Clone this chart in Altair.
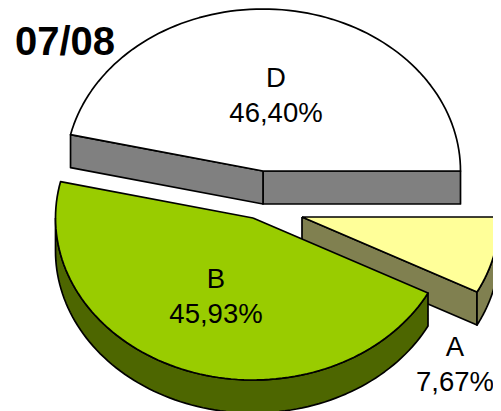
import numpy as np
import pandas as pd
import altair as alt

names = ["A", "B", "D"]
shares = [7.67, 45.93, 46.40]
labels = ["7,67%", "45,93%", "46,40%"]
top_colors = ["#FFFF99", "#99CC00", "#FFFFFF"]
side_colors = ["#808050", "#4D6600", "#808080"]
apex_x = [302, 253, 263]
apex_y = [217, 218, 171]
label_x = [455, 216, 276]
label_y = [348, 280, 79]
title_text = ["07/08"]

RX, RY, DEPTH = 197.5, 162, 33
W, H = 485, 403
xs = alt.Scale(domain=[8, 8 + W], nice=False, zero=False)
ys = alt.Scale(domain=[8 + H, 8], nice=False, zero=False)

start = {"D": 0.0, "B": 46.40 * 3.6, "A": (46.40 + 45.93) * 3.6}
span = dict(zip(names, [s * 3.6 for s in shares]))
apex = {n: (x, y) for n, x, y in zip(names, apex_x, apex_y)}


def arc(n, a0, a1, dy=0):
    t = np.radians(np.linspace(a0, a1, 90))
    cx, cy = apex[n]
    return list(zip(cx + RX * np.cos(t), cy - RY * np.sin(t) + dy))


def poly(pts, fill):
    pts = list(pts) + [pts[0]]
    df = pd.DataFrame(pts, columns=["x", "y"]).assign(i=range(len(pts)))
    return alt.Chart(df).mark_line(
        fill=fill, stroke="black", strokeWidth=1.7, strokeJoin="round", clip=False
    ).encode(
        x=alt.X("x:Q", scale=xs, axis=None),
        y=alt.Y("y:Q", scale=ys, axis=None),
        order="i:Q",
    )


def spoke(n, a):
    cx, cy = apex[n]
    e = arc(n, a, a)[0]
    return [(cx, cy), e, (e[0], e[1] + DEPTH), (cx, cy + DEPTH)]


layers = []
col = dict(zip(names, zip(top_colors, side_colors)))

# slice D
s, e = start["D"], start["D"] + span["D"]
layers += [poly(spoke("D", s), col["D"][1]), poly(spoke("D", e), col["D"][1])]
layers += [poly([apex["D"]] + arc("D", s, e), col["D"][0])]

# slice A
s, e = start["A"], start["A"] + span["A"]
layers += [poly(spoke("A", s), col["A"][1])]
layers += [poly(arc("A", s, e) + arc("A", e, s, DEPTH), col["A"][1])]
layers += [poly([apex["A"]] + arc("A", s, e), col["A"][0])]

# slice B
s, e = start["B"], start["B"] + span["B"]
layers += [poly(arc("B", 180, e) + arc("B", e, 180, DEPTH), col["B"][1])]
layers += [poly([apex["B"]] + arc("B", s, e), col["B"][0])]

# labels
rows = []
for n, lab, x, y in zip(names, labels, label_x, label_y):
    rows.append({"x": x, "y": y, "t": n})
    rows.append({"x": x, "y": y + 34.5, "t": lab})
text = alt.Chart(pd.DataFrame(rows)).mark_text(
    font="Liberation Sans", fontSize=27.5, color="black", align="center", baseline="middle"
).encode(x=alt.X("x:Q", scale=xs, axis=None), y=alt.Y("y:Q", scale=ys, axis=None), text="t:N")

title = alt.Chart(pd.DataFrame({"x": [15], "y": [43], "t": title_text})).mark_text(
    font="Liberation Sans", fontSize=40, fontWeight="bold", color="black", align="left", baseline="middle"
).encode(x=alt.X("x:Q", scale=xs, axis=None), y=alt.Y("y:Q", scale=ys, axis=None), text="t:N")

chart = alt.layer(*layers, text, title).properties(
    width=W, height=H, padding=0, autosize=alt.AutoSizeParams(type="none"),
    background="white",
).configure_view(stroke=None)

chart.save("out.html", embed_options={"renderer": "svg", "actions": False})
